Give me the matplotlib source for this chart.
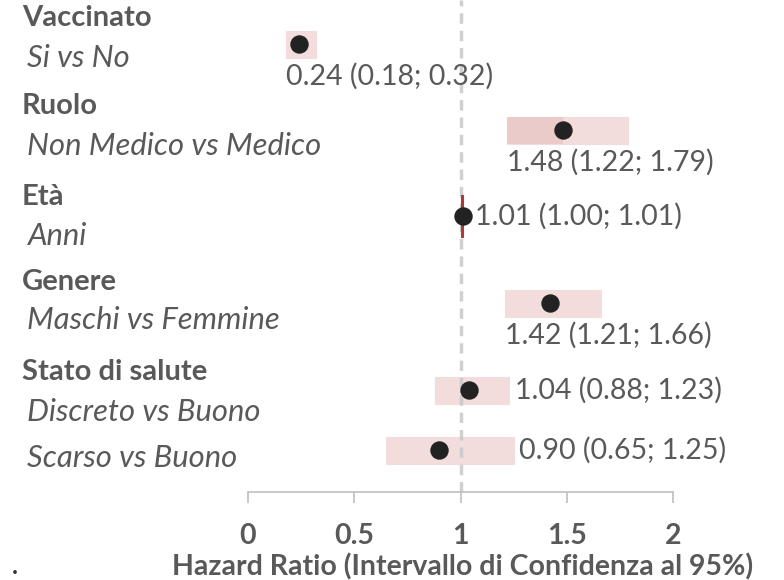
import matplotlib
matplotlib.use("Agg")
import matplotlib.pyplot as plt
from matplotlib import transforms

plt.rcParams["font.family"] = ["Lato", "DejaVu Sans"]

# data
groups = ["Vaccinato", "Ruolo", "Età", "Genere", "Stato di salute"]
comparisons = ["Si vs No", "Non Medico vs Medico", "Anni", "Maschi vs Femmine",
               "Discreto vs Buono", "Scarso vs Buono"]
hr = [0.24, 1.48, 1.01, 1.42, 1.04, 0.90]
lower = [0.18, 1.22, 1.00, 1.21, 0.88, 0.65]
upper = [0.32, 1.79, 1.01, 1.66, 1.23, 1.25]
xticks = [0, 0.5, 1, 1.5, 2]

# layout (pixel rows, y grows downward)
group_y = [18, 106, 197, 282, 372]
comp_y = [58, 146, 236, 320, 412, 458]
mark_y = [44, 130, 216, 303, 390, 450]
band_h = [27, 27, 42, 27, 27, 27]
band_c = ["#f2dcdc", "#f2dcdc", "#a83a3a", "#f2dcdc", "#f2dcdc", "#f2dcdc"]
band_z = [1, 1, 2.5, 1, 1, 1]
# where the annotation goes: "below" the band or to the "right"
lab_pos = ["below", "below", "right", "below", "right", "right"]
lab_dx = [0, 0, 9, 0, 4, 4]

W, H = 784, 580
fig = plt.figure(figsize=(W / 100, H / 100), dpi=100)
ax = fig.add_axes([248 / W, (H - 492) / H, (673 - 248) / W, 492 / H])
ax.set_xlim(0, 2)
ax.set_ylim(492, 0)

txt = "#595959"
fs = 20.5
for l, u, y, bh, c, z in zip(lower, upper, mark_y, band_h, band_c, band_z):
    ax.barh(y, u - l, left=l, height=bh, color=c, edgecolor=c, lw=0.8,
            zorder=z)
# darker overlap on the left part of Ruolo
ax.barh(mark_y[1], hr[1] - lower[1], left=lower[1], height=band_h[1],
        color="#e3b5b5", alpha=0.45, zorder=1.5)
ax.axvline(1, color="#c8c8c8", lw=2.5, ls=(0, (3, 2)), alpha=0.85, zorder=2)
ax.scatter(hr, mark_y, s=150, color="#222222", zorder=3)

for h, l, u, y, bh, pos, dx in zip(hr, lower, upper, mark_y, band_h,
                                   lab_pos, lab_dx):
    s = f"{h:.2f} ({l:.2f}; {u:.2f})"
    if pos == "below":
        ax.text(l, y + bh / 2 + 5, s, ha="left", va="top", fontsize=fs,
                color=txt)
    else:
        ax.annotate(s, (u, y), xytext=(dx, 0), textcoords="offset points",
                    ha="left", va="center", fontsize=fs, color=txt)

tr = transforms.blended_transform_factory(fig.transFigure, ax.transData)
for g, y in zip(groups, group_y):
    ax.text(22 / W, y, g, transform=tr, ha="left", va="center", fontsize=21,
            fontweight="bold", color=txt, clip_on=False)
for c, y in zip(comparisons, comp_y):
    ax.text(27 / W, y, c, transform=tr, ha="left", va="center", fontsize=22.3,
            style="italic", color=txt, clip_on=False)

for side in ["left", "right", "top"]:
    ax.spines[side].set_visible(False)
ax.spines["bottom"].set_color("#bfbfbf")
ax.spines["bottom"].set_linewidth(1.2)
ax.set_yticks([])
ax.set_xticks(xticks)
ax.set_xticklabels([f"{t:g}" for t in xticks], fontsize=fs, fontweight="bold",
                   color=txt)
ax.tick_params(axis="x", length=8, width=1.2, color="#bfbfbf", pad=14)
ax.set_xlabel("Hazard Ratio (Intervallo di Confidenza al 95%)", fontsize=fs,
              fontweight="bold", color=txt)
ax.xaxis.set_label_coords(0.505, -0.124)
fig.text(15 / W, 1 - 578 / H, ".", fontsize=18, color="#333333", ha="center",
         va="bottom", fontweight="bold")

fig.savefig("out.png", dpi=100)
